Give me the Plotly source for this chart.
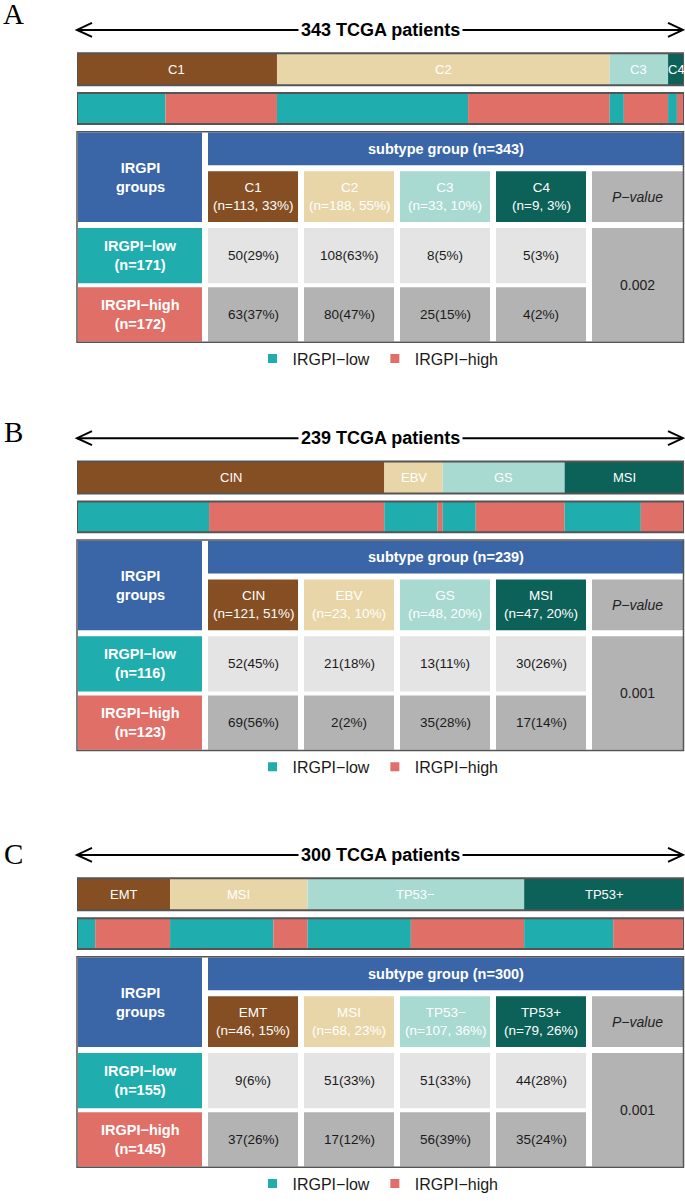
import plotly.graph_objects as go

# ---------------- data ----------------
panel_letters = ["A", "B", "C"]

a_subtypes = ["C1", "C2", "C3", "C4"]
a_low = [50, 108, 8, 5]
a_high = [63, 80, 25, 4]
a_pvalue = "0.002"

b_subtypes = ["CIN", "EBV", "GS", "MSI"]
b_low = [52, 21, 13, 30]
b_high = [69, 2, 35, 17]
b_pvalue = "0.001"

c_subtypes = ["EMT", "MSI", "TP53−", "TP53+"]
c_low = [9, 51, 51, 44]
c_high = [37, 17, 56, 35]
c_pvalue = "0.001"

group_names = ["IRGPI−low", "IRGPI−high"]

# ---------------- style ----------------
W, H = 685, 1201
SUB_COLORS = ["#854E23", "#E8D6A8", "#A8DAD2", "#0C6158"]
LOW_C = "#1FADAD"
HIGH_C = "#E06F68"
BLUE = "#3A65A6"
LIGHT = "#E4E4E4"
GRAY = "#B3B3B3"
BORDER = "#555555"
SANS = "Liberation Sans, Arial, sans-serif"
SERIF = "Liberation Serif, Times New Roman, serif"

panels = [
    dict(letter=panel_letters[0], subs=a_subtypes, low=a_low, high=a_high, p=a_pvalue,
         dy=0, letter_y=14, xa="x2", lg="legend"),
    dict(letter=panel_letters[1], subs=b_subtypes, low=b_low, high=b_high, p=b_pvalue,
         dy=410, letter_y=434, xa="x3", lg="legend2"),
    dict(letter=panel_letters[2], subs=c_subtypes, low=c_low, high=c_high, p=c_pvalue,
         dy=828.5, letter_y=857.5, xa="x4", lg="legend3"),
]

fig = go.Figure()
shapes = []
anns = []


def rect(x0, x1, y0, y1, fill, xref="x", line_color=None, lw=0):
    shapes.append(dict(type="rect", xref=xref, yref="y", x0=x0, x1=x1, y0=y0, y1=y1,
                       fillcolor=fill, line=dict(color=line_color or fill, width=lw),
                       layer="above"))


def text(x, y, s, size, color, xref="x", bold=False, bg=None, family=SANS):
    if bold:
        s = "<b>" + s + "</b>"
    d = dict(x=x, y=y, xref=xref, yref="y", text=s, showarrow=False,
             font=dict(family=family, size=size, color=color),
             xanchor="center", yanchor="middle")
    if bg:
        d["bgcolor"] = bg
        d["borderpad"] = 2
    anns.append(d)


layout_axes = {}
for k, pn in enumerate(panels):
    dy = pn["dy"]
    subs, low, high = pn["subs"], pn["low"], pn["high"]
    n = [l + h for l, h in zip(low, high)]
    total = sum(n)
    nlow, nhigh = sum(low), sum(high)
    xa = pn["xa"]

    # panel letter
    text(13.5, pn["letter_y"], pn["letter"], 29, "black", family=SERIF)

    # arrow with title
    ya = dy + 30
    shapes.append(dict(type="line", xref="x", yref="y", x0=77, x1=683, y0=ya, y1=ya,
                       line=dict(color="black", width=2)))
    shapes.append(dict(type="path", xref="x", yref="y",
                       path=f"M 92,{ya-7} L 77,{ya} L 92,{ya+7}",
                       line=dict(color="black", width=2)))
    shapes.append(dict(type="path", xref="x", yref="y",
                       path=f"M 668,{ya-7} L 683,{ya} L 668,{ya+7}",
                       line=dict(color="black", width=2)))
    text(380.5, ya, f"{total} TCGA patients", 18, "black", bold=True, bg="white")

    # subtype bar
    yb1 = dy + 69.5
    cum = 0
    for i, s in enumerate(subs):
        fig.add_trace(go.Bar(orientation="h", x=[n[i]], base=[cum], y=[yb1], width=[32],
                             marker=dict(color=SUB_COLORS[i], line=dict(width=0)),
                             xaxis=xa, yaxis="y", showlegend=False, hoverinfo="skip"))
        text(cum + n[i] / 2, yb1, s, 13, "white", xref=xa)
        cum += n[i]
    rect(0, total, dy + 53.5, dy + 85.5, "rgba(0,0,0,0)", xref=xa, line_color=BORDER, lw=2)

    # IRGPI bar
    yb2 = dy + 109
    cum = 0
    for i in range(len(subs)):
        for val, col in ((low[i], LOW_C), (high[i], HIGH_C)):
            fig.add_trace(go.Bar(orientation="h", x=[val], base=[cum], y=[yb2], width=[31],
                                 marker=dict(color=col, line=dict(width=0)),
                                 xaxis=xa, yaxis="y", showlegend=False, hoverinfo="skip"))
            cum += val
    rect(0, total, dy + 93.5, dy + 124.5, "rgba(0,0,0,0)", xref=xa, line_color=BORDER, lw=2)

    layout_axes["xaxis" + xa[1:]] = dict(domain=[77 / W, 684 / W],
                                         range=[0, total], anchor="y", visible=False,
                                         fixedrange=True)

    # table
    hdr = (dy + 133, dy + 166)
    subr = (dy + 172, dy + 223)
    lowr = (dy + 229, dy + 284.5)
    highr = (dy + 288.5, dy + 343)
    rect(78, 202, hdr[0], subr[1], BLUE)
    text(140, (hdr[0] + subr[1]) / 2, "IRGPI<br>groups", 14.5, "white", bold=True)
    rect(208, 683, hdr[0], hdr[1], BLUE)
    text(445.5, (hdr[0] + hdr[1]) / 2, f"subtype group (n={total})", 14.5, "white", bold=True)
    rect(78, 202, lowr[0], lowr[1], LOW_C)
    text(140, (lowr[0] + lowr[1]) / 2, f"{group_names[0]}<br>(n={nlow})", 14.5, "white", bold=True)
    rect(78, 202, highr[0], highr[1], HIGH_C)
    text(140, (highr[0] + highr[1]) / 2, f"{group_names[1]}<br>(n={nhigh})", 14.5, "white", bold=True)
    for i, s in enumerate(subs):
        x0 = 208 + 96 * i
        x1 = x0 + 90
        xc = (x0 + x1) / 2
        rect(x0, x1, subr[0], subr[1], SUB_COLORS[i])
        text(xc, (subr[0] + subr[1]) / 2,
             f"{s}<br>(n={n[i]}, {round(100 * n[i] / total)}%)", 13.5, "white")
        rect(x0, x1, lowr[0], lowr[1], LIGHT)
        text(xc, (lowr[0] + lowr[1]) / 2, f"{low[i]}({round(100 * low[i] / nlow)}%)", 13.5, "#1a1a1a")
        rect(x0, x1, highr[0], highr[1], GRAY)
        text(xc, (highr[0] + highr[1]) / 2, f"{high[i]}({round(100 * high[i] / nhigh)}%)", 13.5, "#1a1a1a")
    rect(592, 683, subr[0], subr[1], GRAY)
    text(637.5, (subr[0] + subr[1]) / 2, "<i>P−value</i>", 14, "#222")
    rect(592, 683, lowr[0], highr[1], GRAY)
    text(637.5, (lowr[0] + highr[1]) / 2, pn["p"], 14, "#222")
    rect(77, 683.5, dy + 132.3, dy + 343.7, "rgba(0,0,0,0)", line_color=BORDER, lw=1.5)

    # legend entries
    for name, col in zip(group_names, (LOW_C, HIGH_C)):
        fig.add_trace(go.Scatter(x=[None], y=[None], mode="markers", name=name,
                                 marker=dict(symbol="square", size=9, color=col),
                                 xaxis=xa, yaxis="y", legend=pn["lg"], showlegend=True))
    layout_axes[pn["lg"]] = dict(orientation="h", x=378 / W, xanchor="center",
                                 y=1 - (dy + 360) / H, yanchor="middle",
                                 font=dict(family=SANS, size=16, color="#1a1a1a"),
                                 bgcolor="rgba(0,0,0,0)", itemwidth=30)

fig.update_layout(
    width=W, height=H,
    margin=dict(l=0, r=0, t=0, b=0),
    paper_bgcolor="white", plot_bgcolor="rgba(0,0,0,0)",
    barmode="overlay",
    xaxis=dict(range=[0, W], domain=[0, 1], visible=False, fixedrange=True),
    yaxis=dict(range=[H, 0], domain=[0, 1], visible=False, fixedrange=True),
    shapes=shapes, annotations=anns,
    **layout_axes,
)

fig.write_html("out.html",
               config={"displayModeBar": False},
               post_script="document.body.style.margin='0';document.body.style.overflow='hidden';")
